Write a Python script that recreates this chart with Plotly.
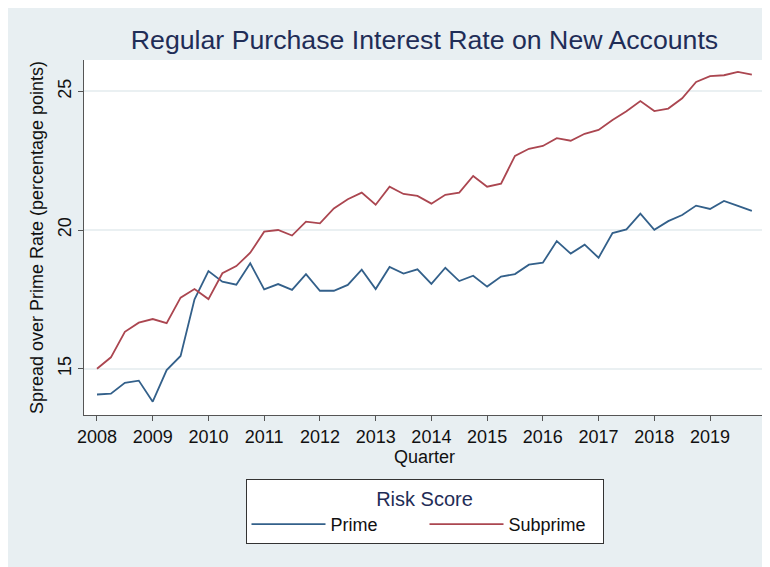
import plotly.graph_objects as go

# ---- data -------------------------------------------------------------
years = list(range(2008, 2020))
quarters = [1, 2, 3, 4]
quarter_labels = [f"{y}q{q}" for y in years for q in quarters]
quarter_x = [y + (q - 1) / 4 for y in years for q in quarters]

prime = [14.07, 14.10, 14.49, 14.57, 13.81, 14.95, 15.46, 17.50,
         18.52, 18.14, 18.03, 18.80, 17.86, 18.05, 17.84, 18.41,
         17.81, 17.81, 18.02, 18.57, 17.87, 18.67, 18.43, 18.58,
         18.06, 18.64, 18.16, 18.35, 17.96, 18.32, 18.41, 18.75,
         18.82, 19.60, 19.15, 19.47, 19.00, 19.89, 20.02, 20.59,
         20.01, 20.32, 20.54, 20.88, 20.76, 21.05, 20.87, 20.69]

subprime = [15.00, 15.41, 16.33, 16.66, 16.79, 16.64, 17.56, 17.87,
            17.51, 18.44, 18.70, 19.18, 19.94, 20.00, 19.80, 20.30,
            20.24, 20.78, 21.11, 21.35, 20.91, 21.56, 21.30, 21.23,
            20.95, 21.27, 21.35, 21.95, 21.56, 21.67, 22.67, 22.93,
            23.03, 23.31, 23.22, 23.47, 23.61, 23.97, 24.28, 24.65,
            24.29, 24.38, 24.75, 25.34, 25.55, 25.58, 25.70, 25.60]

x_ticks = years
x_tick_labels = [str(y) for y in years]
y_ticks = [15, 20, 25]

# ---- figure -----------------------------------------------------------
FONT = "Liberation Sans, Arial, Helvetica, sans-serif"
BG = "#e8eff2"
W, H = 758, 559

fig = go.Figure()
fig.add_trace(go.Scatter(x=quarter_x, y=prime, name="Prime", mode="lines",
                         text=quarter_labels,
                         line=dict(color="#33608a", width=1.8)))
fig.add_trace(go.Scatter(x=quarter_x, y=subprime, name="Subprime", mode="lines",
                         text=quarter_labels,
                         line=dict(color="#ab4650", width=1.8)))

fig.update_layout(
    width=W, height=H,
    margin=dict(l=76, r=1, t=52, b=152, autoexpand=False),
    paper_bgcolor=BG,
    plot_bgcolor="white",
    font=dict(family=FONT, size=18, color="#111111"),
    title=dict(text="Regular Purchase Interest Rate on New Accounts",
               x=0.5, xref="paper", xanchor="center",
               y=1 - 32 / H, yref="container", yanchor="middle",
               font=dict(family=FONT, size=26.7, color="#1f2d57")),
    showlegend=True,
    legend=dict(
        orientation="h",
        x=0.5, xanchor="center", xref="paper",
        y=-0.18, yanchor="top", yref="paper",
        bgcolor="white", bordercolor="#333333", borderwidth=1,
        font=dict(family=FONT, size=18, color="#111111"),
        title=dict(text="Risk Score", side="top center",
                   font=dict(family=FONT, size=20, color="#1f2d57")),
        itemwidth=74,
        entrywidth=89, entrywidthmode="pixels",
    ),
)

fig.update_xaxes(
    range=[2007.767, 2019.986],
    tickmode="array", tickvals=x_ticks, ticktext=x_tick_labels,
    ticks="outside", ticklen=5, tickwidth=1, tickcolor="#555555",
    showline=True, linecolor="#555555", linewidth=1,
    showgrid=False, zeroline=False,
    tickfont=dict(size=18),
    title=dict(text="Quarter", font=dict(size=18), standoff=4),
)
fig.update_yaxes(
    range=[13.33, 26.13],
    tickmode="array", tickvals=y_ticks,
    tickangle=-90,
    ticks="outside", ticklen=5, tickwidth=1, tickcolor="#555555",
    showline=True, linecolor="#555555", linewidth=1,
    showgrid=True, gridcolor="#eaf0f2", gridwidth=1.5,
    zeroline=False,
    tickfont=dict(size=18),
    title=dict(text="Spread over Prime Rate (percentage points)",
               font=dict(size=18), standoff=6),
)

fig.write_html("out.html")
